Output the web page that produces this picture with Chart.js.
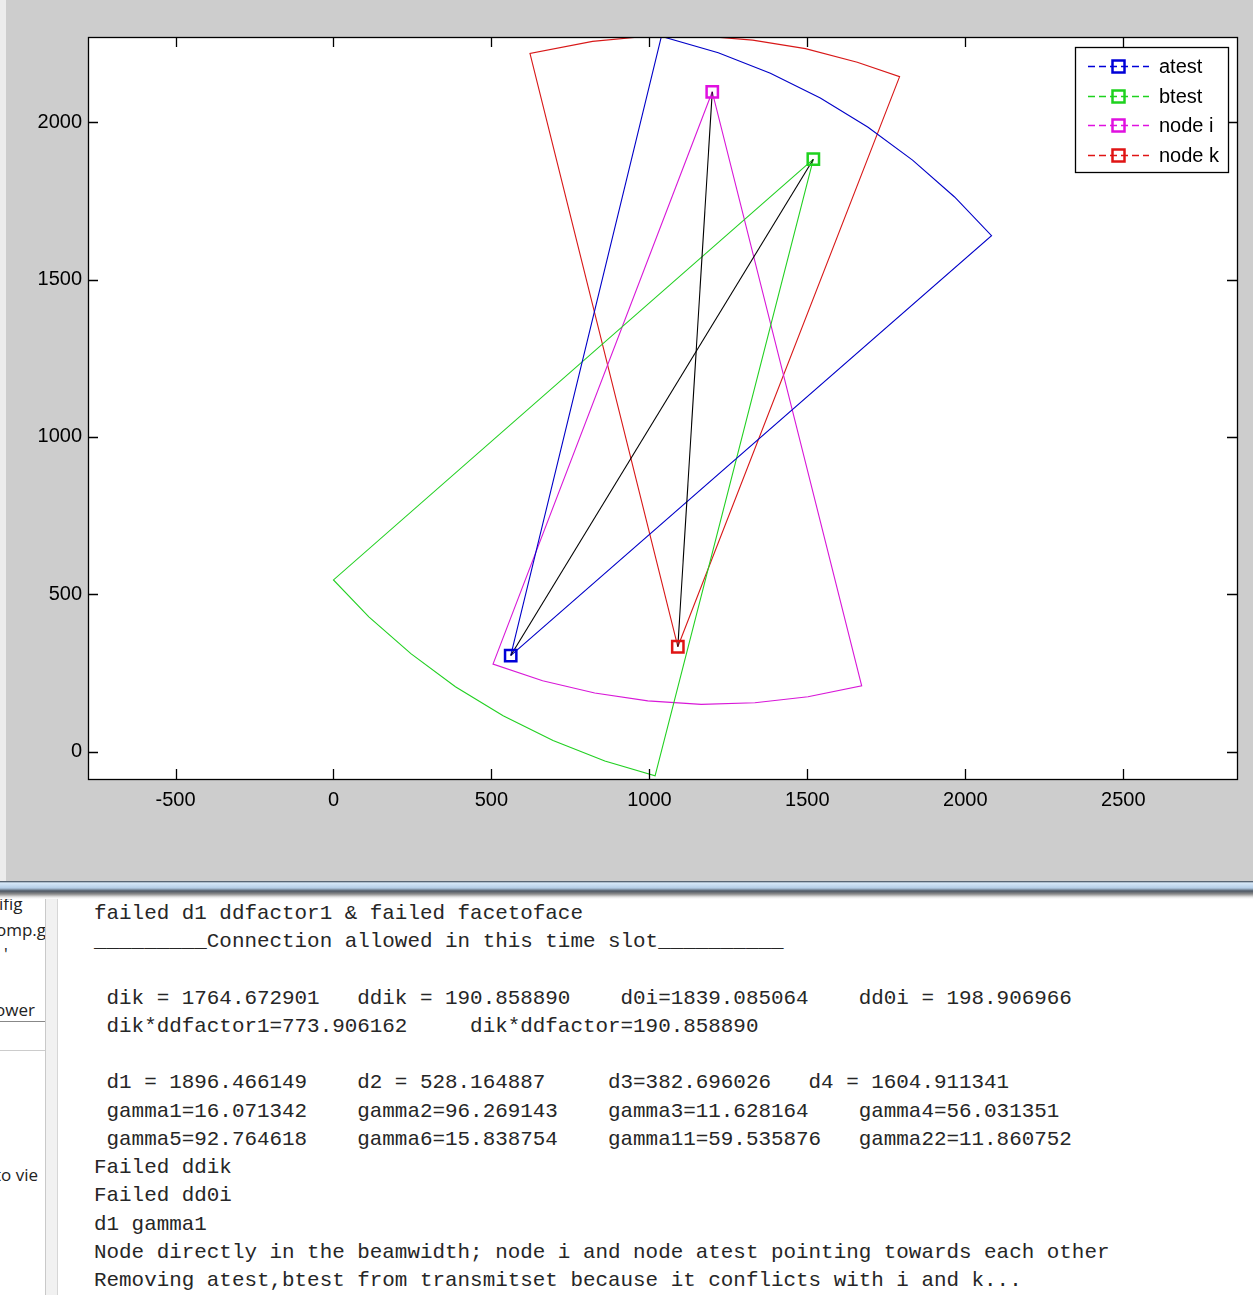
<!DOCTYPE html>
<html><head><meta charset="utf-8">
<script src="https://cdn.jsdelivr.net/npm/chart.js@4.4.0/dist/chart.umd.min.js"></script>
<style>
html,body{margin:0;padding:0;background:#fff;width:1253px;height:1295px;overflow:hidden;font-family:'Liberation Sans',Arial,sans-serif;}
#fig{position:absolute;left:0;top:0;width:1253px;height:881px;background:#cdcdcd;}
#strip{position:absolute;left:0;top:0;width:6px;height:881px;background:#ececec;}
#cv{position:absolute;left:0;top:0;}
#wframe{position:absolute;left:0;top:881px;width:1253px;height:18px;background:linear-gradient(#2e3a48 0px,#d6e8f8 2px,#b4cde6 7px,#4e5864 10px,#8a8a8a 13px,#e6e6e6 16px,#ffffff 18px);}
#console{position:absolute;left:0;top:899px;width:1253px;height:396px;background:#fff;}
#lpanel{position:absolute;left:0;top:0;width:45px;height:396px;overflow:hidden;font-family:'Open Sans','Noto Sans',sans-serif;font-size:17px;color:#222;}
#lpanel div{position:absolute;white-space:nowrap;}
#sep{position:absolute;left:45px;top:0;width:11px;height:396px;background:#f1f1f1;border-left:1px solid #c9c9c9;border-right:1px solid #d6d6d6;}
#txt{position:absolute;left:94px;top:1px;margin:0;font-family:'Liberation Mono','Courier New',monospace;font-size:20.9px;line-height:28.23px;color:#262626;white-space:pre;}
</style></head>
<body>
<div id="fig"><div id="strip"></div><canvas id="cv" width="1253" height="881"></canvas></div>
<div id="wframe"></div>
<div id="console">
  <div id="lpanel">
    <div style="left:-1px;top:-7px;">ifig</div>
    <div style="left:-4px;top:19px;">omp.g</div>
    <div style="left:4px;top:43px;">'</div>
    <div style="left:-5px;top:99px;">ower</div>
    <div style="left:0;top:122px;width:45px;border-top:1px solid #888;"></div>
    <div style="left:0;top:151px;width:45px;border-top:1px solid #ccc;"></div>
    <div style="left:-5px;top:264px;">to vie</div>
  </div>
  <div id="sep"></div>
<pre id="txt">failed d1 ddfactor1 &amp; failed facetoface
_________Connection allowed in this time slot__________

 dik = 1764.672901   ddik = 190.858890    d0i=1839.085064    dd0i = 198.906966
 dik*ddfactor1=773.906162     dik*ddfactor=190.858890

 d1 = 1896.466149    d2 = 528.164887     d3=382.696026   d4 = 1604.911341
 gamma1=16.071342    gamma2=96.269143    gamma3=11.628164    gamma4=56.031351
 gamma5=92.764618    gamma6=15.838754    gamma11=59.535876   gamma22=11.860752
Failed ddik
Failed dd0i
d1 gamma1
Node directly in the beamwidth; node i and node atest pointing towards each other
Removing atest,btest from transmitset because it conflicts with i and k...</pre>
</div>
<script>
// ---- data ----
const seriesNames = ['atest', 'btest', 'node i', 'node k'];
const atestNode = [[561, 306]];
const btestNode = [[1519, 1882]];
const nodeINode = [[1199, 2096]];
const nodeKNode = [[1090, 334]];

// beam sectors (node -> arc start -> arc points -> arc end -> node)
const atestSector = [[561,306],[1038,2272],[1218,2220],[1383,2155],[1541,2076],[1691,1984],[1833,1879],[1966,1762],[2083,1639],[561,306]];
const btestSector = [[1519,1882],[0,546],[112,429],[245,312],[386,207],[537,115],[695,36],[859,-29],[1018,-76],[1519,1882]];
const nodeISector = [[1199,2096],[505,279],[662,226],[827,187],[995,162],[1164,151],[1334,156],[1502,175],[1672,210],[1199,2096]];
const nodeKSector = [[1090,334],[1792,2144],[1658,2190],[1494,2233],[1327,2260],[1158,2274],[988,2272],[820,2256],[622,2218],[1090,334]];

// black links
const linkAtestBtest = [[561,306],[1519,1882]];
const linkKI = [[1090,334],[1199,2096]];

const xTicks = [-500, 0, 500, 1000, 1500, 2000, 2500];
const yTicks = [0, 500, 1000, 1500, 2000];
const xLimits = [-777, 2860];
const yLimits = [-86, 2270];

const colors = ['#0000d8', '#1ed21e', '#e010e0', '#e01414'];
const sectorColors = ['#0000c8', '#22d022', '#d818d8', '#d81818'];

const pts = a => a.map(p => ({x: p[0], y: p[1]}));
const axisFont = {family: "'Liberation Sans Narrow','Arial Narrow','Liberation Sans',Arial,sans-serif", size: 20};

const nodes = [atestNode, btestNode, nodeINode, nodeKNode];
const sectors = [atestSector, btestSector, nodeISector, nodeKSector];

const datasets = [];
nodes.forEach((n, i) => datasets.push({
  label: seriesNames[i], data: pts(n), showLine: false,
  pointStyle: 'rect', pointRadius: 8, pointHoverRadius: 8,
  borderColor: colors[i], pointBorderColor: colors[i], pointBorderWidth: 2.5,
  backgroundColor: 'rgba(0,0,0,0)', pointBackgroundColor: 'rgba(0,0,0,0)',
  borderDash: [7, 4]
}));
[linkAtestBtest, linkKI].forEach(l => datasets.push({
  label: 'link', data: pts(l), showLine: true, pointRadius: 0,
  borderColor: '#000', borderWidth: 1.1, fill: false, tension: 0
}));
sectors.forEach((s, i) => datasets.push({
  label: 'sector', data: pts(s), showLine: true, pointRadius: 0,
  borderColor: sectorColors[i], borderWidth: 1.1, fill: false, tension: 0
}));

const boxPlugin = {
  id: 'box',
  beforeDatasetsDraw(chart) {
    const {ctx, chartArea: a} = chart;
    ctx.save(); ctx.fillStyle = '#fff';
    ctx.fillRect(a.left, a.top, a.right - a.left, a.bottom - a.top);
    ctx.restore();
  },
  afterDatasetsDraw(chart) {
    const {ctx, chartArea: a, scales} = chart;
    ctx.save();
    ctx.strokeStyle = '#000'; ctx.lineWidth = 1.3;
    ctx.strokeRect(Math.round(a.left) + 0.5, Math.round(a.top) + 0.5, Math.round(a.right - a.left), Math.round(a.bottom - a.top));
    const L = 10;
    ctx.beginPath();
    scales.x.ticks.forEach(t => {
      const px = Math.round(scales.x.getPixelForValue(t.value)) + 0.5;
      ctx.moveTo(px, a.bottom); ctx.lineTo(px, a.bottom - L);
      ctx.moveTo(px, a.top); ctx.lineTo(px, a.top + L);
    });
    scales.y.ticks.forEach(t => {
      const py = Math.round(scales.y.getPixelForValue(t.value)) + 0.5;
      ctx.moveTo(a.left, py); ctx.lineTo(a.left + L, py);
      ctx.moveTo(a.right, py); ctx.lineTo(a.right - L, py);
    });
    ctx.stroke();
    ctx.restore();
  },
  afterDraw(chart) {
    const ctx = chart.ctx;
    ctx.save();
    const bx = 1075.5, by = 47.5, bw = 153, bh = 125;
    ctx.fillStyle = '#fff'; ctx.fillRect(bx, by, bw, bh);
    ctx.strokeStyle = '#000'; ctx.lineWidth = 1.3; ctx.strokeRect(bx, by, bw, bh);
    ctx.font = "20px 'Liberation Sans Narrow','Arial Narrow','Liberation Sans',Arial,sans-serif";
    ctx.textBaseline = 'middle'; ctx.textAlign = 'left';
    for (let i = 0; i < 4; i++) {
      const ds = chart.data.datasets[i];
      const y = Math.round(66 + i * 29.5) + 0.5;
      ctx.strokeStyle = ds.borderColor; ctx.lineWidth = 1.6;
      ctx.setLineDash(ds.borderDash);
      ctx.beginPath(); ctx.moveTo(1088, y); ctx.lineTo(1149, y); ctx.stroke();
      ctx.setLineDash([]);
      ctx.lineWidth = 2.5;
      ctx.strokeRect(1112.5, y - 6, 12, 12);
      ctx.fillStyle = '#000';
      ctx.fillText(ds.label, 1159, y + 1);
    }
    ctx.restore();
  }
};

new Chart(document.getElementById('cv'), {
  type: 'scatter',
  data: {datasets},
  options: {
    responsive: false, animation: false,
    layout: {padding: {top: 37, right: 16, left: 0, bottom: 0}},
    plugins: {legend: {display: false}, tooltip: {enabled: false}},
    scales: {
      x: {
        type: 'linear', position: 'bottom', min: xLimits[0], max: xLimits[1],
        afterBuildTicks: s => { s.ticks = xTicks.map(v => ({value: v})); },
        afterFit: s => { s.height = 102; },
        grid: {display: false, drawTicks: false}, border: {display: false},
        ticks: {color: '#000', font: axisFont, padding: 9, callback: v => String(v), maxRotation: 0, autoSkip: false}
      },
      y: {
        type: 'linear', position: 'left', min: yLimits[0], max: yLimits[1],
        afterBuildTicks: s => { s.ticks = yTicks.map(v => ({value: v})); },
        afterFit: s => { s.width = 88; },
        grid: {display: false, drawTicks: false}, border: {display: false},
        ticks: {color: '#000', font: axisFont, padding: 6, callback: v => String(v), autoSkip: false}
      }
    }
  },
  plugins: [boxPlugin]
});
</script>
</body></html>
